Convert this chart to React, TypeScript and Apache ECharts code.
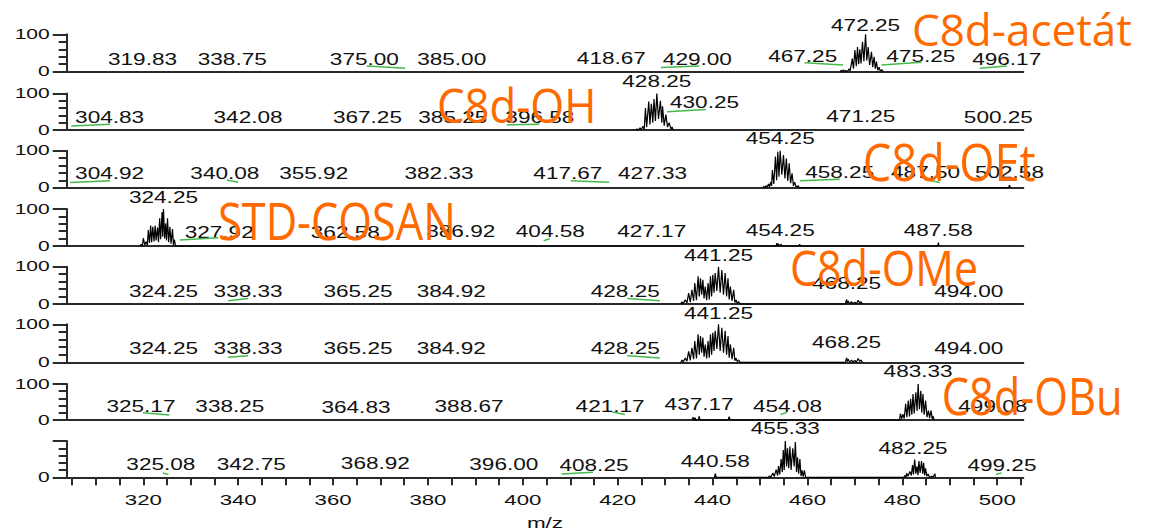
import React, { useEffect, useRef } from "react";
import * as echarts from "echarts";

type Pt = [number, number];
// [peak m/z, m/z where the label is centred, label height in % intensity]
type PeakLabel = [number, number, number];
// leader line from a label to its peak: [m/z, %, m/z, %]
type Connector = [number, number, number, number];

const MZ_MIN = 303.85;
const MZ_MAX = 505.5;

const xTickValues = [
  305, 310, 315, 320, 325, 330, 335, 340, 345, 350, 355, 360, 365, 370, 375, 380, 385, 390, 395, 400,
  405, 410, 415, 420, 425, 430, 435, 440, 445, 450, 455, 460, 465, 470, 475, 480, 485, 490, 495, 500, 505,
];
const xLabelValues = [320, 340, 360, 380, 400, 420, 440, 460, 480, 500];
const yLabelValues = [0, 100];

// ---- spectra (m/z, relative intensity %) ----
const spectrumAcetate: Pt[] = [
  [466.9, 0], [467.1, 4], [467.3, 0], [467.55, 5], [467.8, 1], [468.1, 3], [468.4, 0], [468.8, 8], [469.0, 2],
  [469.45, 35], [469.7, 8], [470.0, 58], [470.3, 15], [470.55, 66], [470.8, 20], [471.05, 60], [471.3, 22],
  [471.6, 80], [471.9, 28], [472.25, 100], [472.5, 30], [472.8, 66], [473.1, 18], [473.5, 53], [473.75, 12],
  [474.05, 40], [474.3, 8], [474.55, 27], [474.8, 4], [475.1, 12], [475.35, 2], [475.7, 5], [476.0, 0],
];
const spectrumOH: Pt[] = [
  [423.8, 0], [424.1, 3], [424.4, 0], [424.7, 6], [425.0, 1], [425.3, 10], [425.6, 2], [425.85, 60], [426.1, 8],
  [426.55, 78], [426.8, 15], [427.1, 72], [427.4, 20], [427.65, 85], [427.95, 25], [428.25, 100], [428.6, 30],
  [429.0, 80], [429.3, 20], [429.45, 65], [429.8, 12], [430.15, 42], [430.5, 8], [430.85, 20], [431.2, 3],
  [431.45, 8], [431.7, 0],
];
const spectrumOEt: Pt[] = [
  [450.6, 0], [450.8, 4], [451.0, 0], [451.3, 6], [451.5, 1], [451.8, 10], [452.0, 2], [452.25, 15], [452.45, 5],
  [452.6, 48], [452.9, 10], [453.25, 84], [453.5, 20], [453.75, 97], [454.0, 30], [454.25, 100], [454.6, 35],
  [454.95, 88], [455.25, 25], [455.55, 79], [455.85, 18], [456.15, 66], [456.45, 12], [456.75, 39], [457.05, 5],
  [457.3, 15], [457.6, 2], [458.05, 5], [458.3, 0], [502.4, 0], [502.58, 7], [502.8, 0],
];
const spectrumCosan: Pt[] = [
  [319.3, 0], [319.6, 5], [319.8, 0], [320.0, 21], [320.3, 3], [320.6, 12], [320.85, 2], [321.05, 43], [321.3, 8],
  [321.55, 55], [321.75, 10], [322.0, 52], [322.25, 12], [322.5, 55], [322.7, 15], [323.0, 50], [323.2, 10],
  [323.45, 75], [323.65, 18], [323.95, 92], [324.1, 25], [324.25, 100], [324.5, 20], [324.7, 61], [324.9, 15],
  [325.1, 75], [325.35, 10], [325.6, 52], [325.85, 6], [326.15, 46], [326.35, 3], [326.55, 17], [326.8, 0],
  [453.4, 0], [453.55, 8], [453.7, 0], [453.85, 6], [454.0, 0], [454.45, 5], [454.6, 0], [458.2, 0], [458.35, 5],
  [458.5, 0], [487.45, 0], [487.6, 9], [487.75, 0],
];
const spectrumOMe: Pt[] = [
  [433.3, 0], [433.55, 6], [433.8, 1], [434.25, 11], [434.6, 3], [434.95, 29], [435.3, 5], [435.65, 38], [436.0, 8],
  [436.25, 56], [436.6, 10], [436.95, 74], [437.2, 20], [437.45, 69], [437.7, 25], [437.95, 65], [438.2, 15],
  [438.45, 47], [438.75, 10], [439.05, 56], [439.3, 12], [439.55, 74], [439.8, 20], [440.05, 78], [440.3, 30],
  [440.55, 83], [440.9, 35], [441.25, 100], [441.6, 30], [441.95, 91], [442.3, 25], [442.65, 83], [442.95, 20],
  [443.25, 69], [443.5, 12], [443.75, 47], [444.1, 8], [444.45, 38], [444.7, 4], [444.95, 11], [445.2, 2],
  [445.5, 6], [445.8, 0], [468.0, 0], [468.25, 12], [468.4, 2], [468.6, 8], [468.9, 0], [469.3, 6], [469.6, 1],
  [470.0, 5], [470.3, 0], [470.7, 10], [471.0, 2], [471.3, 6], [471.6, 0],
];
const spectrumOBu: Pt[] = [
  [435.7, 0], [435.9, 8], [436.1, 0], [436.3, 6], [436.5, 0], [437.0, 0], [437.17, 10], [437.35, 0], [443.3, 0],
  [443.5, 9], [443.7, 0], [479.4, 0], [479.6, 18], [479.85, 3], [480.1, 16], [480.4, 4], [480.7, 45], [480.95, 8],
  [481.25, 54], [481.5, 10], [481.75, 59], [482.0, 15], [482.25, 72], [482.5, 18], [482.85, 77], [483.1, 25],
  [483.33, 100], [483.6, 30], [483.9, 81], [484.1, 20], [484.35, 72], [484.6, 15], [484.9, 54], [485.2, 8],
  [485.5, 26], [485.75, 5], [486.05, 26], [486.3, 3], [486.45, 11], [486.7, 0],
];
const spectrumMixture: Pt[] = [
  [440.4, 0], [440.58, 10], [440.75, 0], [451.8, 0], [452.0, 4], [452.3, 0], [452.7, 12], [453.0, 2], [453.4, 21],
  [453.7, 5], [453.9, 31], [454.15, 8], [454.45, 50], [454.7, 15], [454.9, 75], [455.1, 20], [455.33, 100],
  [455.6, 30], [455.8, 80], [456.05, 25], [456.3, 85], [456.55, 20], [456.9, 80], [457.2, 30], [457.45, 97],
  [457.7, 15], [457.9, 55], [458.15, 10], [458.4, 50], [458.65, 3], [458.85, 19], [459.1, 2], [459.35, 19],
  [459.6, 0], [480.3, 0], [480.6, 5], [480.8, 0], [480.9, 11], [481.2, 3], [481.6, 16], [481.9, 5], [482.15, 34],
  [482.35, 8], [482.6, 49], [482.85, 10], [483.1, 30], [483.3, 6], [483.5, 45], [483.75, 12], [484.05, 45],
  [484.3, 10], [484.5, 40], [484.7, 5], [484.9, 25], [485.15, 3], [485.45, 9], [485.7, 0], [486.2, 3], [486.5, 0],
  [486.85, 10], [487.0, 0],
];

// ---- peak labels ----
const labelsAcetate: PeakLabel[] = [
  [319.83, 319.83, 4], [338.75, 338.75, 4], [375.0, 366.6, 4], [385.0, 385.0, 4], [418.67, 418.67, 8],
  [429.0, 436.8, 4], [467.25, 459.0, 11], [472.25, 472.25, 95], [475.25, 483.9, 11], [496.17, 502.0, 4],
];
const labelsOH: PeakLabel[] = [
  [304.83, 312.9, 6], [342.08, 342.08, 6], [367.25, 367.25, 6], [385.25, 385.25, 6], [396.58, 403.6, 6],
  [428.25, 428.25, 103], [430.25, 438.3, 46], [471.25, 471.25, 9], [500.25, 500.25, 6],
];
const labelsOEt: PeakLabel[] = [
  [304.92, 312.9, 9], [340.08, 337.2, 9], [355.92, 355.92, 9], [382.33, 382.33, 9], [417.67, 409.5, 9],
  [427.33, 427.33, 9], [454.25, 454.25, 103], [458.25, 466.8, 12], [487.5, 484.9, 12], [502.58, 502.58, 12],
];
const labelsCosan: PeakLabel[] = [
  [324.25, 324.25, 102], [327.92, 336.0, 8], [362.58, 362.58, 8], [386.92, 386.92, 11], [404.58, 405.8, 11],
  [427.17, 427.17, 11], [454.25, 454.25, 13], [487.58, 487.58, 13],
];
const labelsOMe: PeakLabel[] = [
  [324.25, 324.25, 5], [338.33, 342.1, 5], [365.25, 365.25, 5], [384.92, 384.92, 6], [428.25, 421.6, 6],
  [441.25, 441.25, 102], [468.25, 468.25, 26], [494.0, 494.0, 5],
];
const labelsOMeRepeat: PeakLabel[] = [
  [324.25, 324.25, 7], [338.33, 342.1, 7], [365.25, 365.25, 7], [384.92, 384.92, 7], [428.25, 421.6, 7],
  [441.25, 441.25, 101], [468.25, 468.25, 25], [494.0, 494.0, 7],
];
const labelsOBu: PeakLabel[] = [
  [325.17, 319.5, 9], [338.25, 338.25, 9], [364.83, 364.83, 6], [388.67, 388.67, 9], [421.17, 418.4, 9],
  [437.17, 437.17, 14], [454.08, 455.8, 9], [483.33, 483.33, 106], [499.08, 499.08, 9],
];
const labelsMixture: PeakLabel[] = [
  [325.08, 323.7, 5], [342.75, 342.75, 5], [368.92, 368.92, 8], [396.0, 396.0, 6], [408.25, 415.0, 3],
  [440.58, 440.58, 13], [455.33, 455.33, 104], [482.25, 482.25, 51], [499.25, 501.0, 3],
];

// ---- leader lines ----
const connectorsAcetate: Connector[] = [
  [367.1, 15, 375.2, 9], [429.1, 11, 437.2, 15], [459.4, 24, 467.5, 18], [475.6, 18, 484.0, 25], [496.3, 9, 502.0, 15],
];
const connectorsOH: Connector[] = [[304.8, 11, 313.0, 16], [396.6, 14, 403.5, 16], [430.4, 50, 438.6, 56]];
const connectorsOEt: Connector[] = [
  [304.6, 14, 313.0, 19], [337.6, 21, 340.0, 15], [410.1, 19, 418.2, 15], [458.4, 19, 466.8, 23], [485.4, 21, 487.9, 14],
];
const connectorsCosan: Connector[] = [[327.7, 16, 335.8, 22], [404.4, 14, 405.7, 20]];
const connectorsOMe: Connector[] = [[337.9, 9, 342.1, 15], [422.0, 15, 428.9, 9]];
const connectorsOMeRepeat: Connector[] = [[337.9, 13, 342.1, 17], [422.0, 17, 428.9, 11]];
const connectorsOBu: Connector[] = [[319.9, 20, 325.5, 14], [418.9, 22, 421.5, 15], [454.3, 15, 455.6, 21]];
const connectorsMixture: Connector[] = [[324.1, 12, 325.3, 8], [408.2, 9, 414.8, 14], [499.7, 8, 500.9, 12]];

const spectra = [
  spectrumAcetate, spectrumOH, spectrumOEt, spectrumCosan, spectrumOMe, spectrumOMe, spectrumOBu, spectrumMixture,
];
const peakLabels = [
  labelsAcetate, labelsOH, labelsOEt, labelsCosan, labelsOMe, labelsOMeRepeat, labelsOBu, labelsMixture,
];
const connectors = [
  connectorsAcetate, connectorsOH, connectorsOEt, connectorsCosan, connectorsOMe, connectorsOMeRepeat,
  connectorsOBu, connectorsMixture,
];

// ---- layout ----
const PLOT_LEFT = 66.7;
const PLOT_WIDTH = 956.6;
const panelTops = [34.3, 93.5, 150.7, 209, 266.7, 324.3, 384, 441];
const panelBaselines = [71.7, 130, 187.7, 246, 304, 362.3, 420, 477.3];

const SANS = "'Liberation Sans', Arial, Helvetica, sans-serif";
const INK = "#111";
const AXIS = "#2a2a2a";
const LEADER = "#45b84b";
const ORANGE = "#ff6a00";

const sampleTitles = [
  { text: "C8d-acetát", x: 912, y: 29, size: 44, stretch: 1 },
  { text: "C8d-OH", x: 437, y: 104.5, size: 48, stretch: 0.91 },
  { text: "C8d-OEt", x: 862.7, y: 161, size: 52, stretch: 0.87 },
  { text: "STD-COSAN", x: 218, y: 220, size: 51, stretch: 0.85 },
  { text: "C8d-OMe", x: 790, y: 267, size: 50, stretch: 0.86 },
  { text: "C8d-OBu", x: 941.7, y: 395, size: 51, stretch: 0.85 },
];

function buildOption(): echarts.EChartsOption {
  const grid: any[] = [];
  const xAxis: any[] = [];
  const yAxis: any[] = [];
  const series: any[] = [];
  const axisLineStyle = { color: AXIS, width: 2 };

  spectra.forEach((spectrum, i) => {
    const last = i === spectra.length - 1;
    grid.push({
      left: PLOT_LEFT,
      width: PLOT_WIDTH,
      top: panelTops[i],
      height: panelBaselines[i] - panelTops[i],
    });
    xAxis.push({
      type: "value",
      gridIndex: i,
      min: MZ_MIN,
      max: MZ_MAX,
      axisLine: { show: true, onZero: false, lineStyle: axisLineStyle },
      axisTick: last
        ? { show: true, customValues: xTickValues, length: 8, lineStyle: axisLineStyle }
        : { show: false },
      axisLabel: { show: false },
      splitLine: { show: false },
    });
    yAxis.push({
      type: "value",
      gridIndex: i,
      min: 0,
      max: 100,
      interval: 100,
      axisLine: { show: true, lineStyle: axisLineStyle },
      axisTick: { show: true, length: 14, lineStyle: axisLineStyle },
      minorTick: { show: true, splitNumber: 5, length: 8, lineStyle: axisLineStyle },
      axisLabel: { show: false },
      splitLine: { show: false },
    });

    series.push({
      type: "line",
      xAxisIndex: i,
      yAxisIndex: i,
      data: spectrum,
      showSymbol: false,
      clip: false,
      lineStyle: { color: "#000", width: 1.2 },
      z: 3,
    });

    series.push({
      type: "custom",
      xAxisIndex: i,
      yAxisIndex: i,
      data: peakLabels[i].map((l) => [l[1], l[2], l[0]]),
      z: 4,
      renderItem: (_p: any, api: any) => {
        const pos = api.value(0) as number;
        const level = api.value(1) as number;
        const peak = api.value(2) as number;
        const pt = api.coord([pos, level]);
        return {
          type: "text",
          x: pt[0],
          y: pt[1] - 11,
          scaleX: 1.37,
          silent: true,
          style: {
            text: peak.toFixed(2),
            fill: INK,
            fontSize: 16.5,
            fontFamily: SANS,
            align: "center",
            verticalAlign: "middle",
          },
        };
      },
    });

    series.push({
      type: "lines",
      coordinateSystem: "cartesian2d",
      xAxisIndex: i,
      yAxisIndex: i,
      data: connectors[i].map((c) => ({ coords: [[c[0], c[1]], [c[2], c[3]]] })),
      lineStyle: { color: LEADER, width: 1.5, opacity: 1 },
      silent: true,
      z: 5,
    });

    const yTicks = last ? yLabelValues.filter((v) => v === 0) : yLabelValues;
    series.push({
      type: "custom",
      xAxisIndex: i,
      yAxisIndex: i,
      data: yTicks.map((v) => [MZ_MIN, v]),
      z: 4,
      renderItem: (_p: any, api: any) => {
        const v = api.value(1) as number;
        const pt = api.coord([api.value(0), v]);
        return {
          type: "text",
          x: pt[0] - 17,
          y: pt[1],
          scaleX: 1.5,
          silent: true,
          style: {
            text: String(v),
            fill: INK,
            fontSize: 14,
            fontFamily: SANS,
            align: "right",
            verticalAlign: "middle",
          },
        };
      },
    });

    if (last) {
      series.push({
        type: "custom",
        xAxisIndex: i,
        yAxisIndex: i,
        data: xLabelValues.map((v) => [v, 0]),
        z: 4,
        renderItem: (_p: any, api: any) => {
          const v = api.value(0) as number;
          const pt = api.coord([v, 0]);
          return {
            type: "text",
            x: pt[0],
            y: pt[1] + 23,
            scaleX: 1.48,
            silent: true,
            style: {
              text: String(v),
              fill: INK,
              fontSize: 15,
              fontFamily: SANS,
              align: "center",
              verticalAlign: "middle",
            },
          };
        },
      });
    }
  });

  const graphic: any[] = sampleTitles.map((t) => ({
    type: "text",
    x: t.x,
    y: t.y,
    scaleX: t.stretch,
    z: 100,
    silent: true,
    style: {
      text: t.text,
      fill: ORANGE,
      fontSize: t.size,
      fontFamily: "'Open Sans', 'Noto Sans', sans-serif",
      align: "left",
      verticalAlign: "middle",
    },
  }));
  graphic.push({
    type: "text",
    x: PLOT_LEFT + PLOT_WIDTH / 2,
    y: 523,
    scaleX: 1.5,
    silent: true,
    style: {
      text: "m/z",
      fill: INK,
      fontSize: 15,
      fontFamily: SANS,
      align: "center",
      verticalAlign: "middle",
    },
  });

  return {
    animation: false,
    backgroundColor: "#fff",
    grid,
    xAxis,
    yAxis,
    series,
    graphic,
  };
}

export default function App() {
  const ref = useRef<HTMLDivElement>(null);
  useEffect(() => {
    if (!ref.current) return;
    const chart = echarts.init(ref.current, undefined, { renderer: "svg" });
    chart.setOption(buildOption());
    return () => chart.dispose();
  }, []);
  return (
    <div
      ref={ref}
      style={{ position: "absolute", left: 0, top: 0, width: 1152, height: 530, background: "#fff" }}
    />
  );
}
